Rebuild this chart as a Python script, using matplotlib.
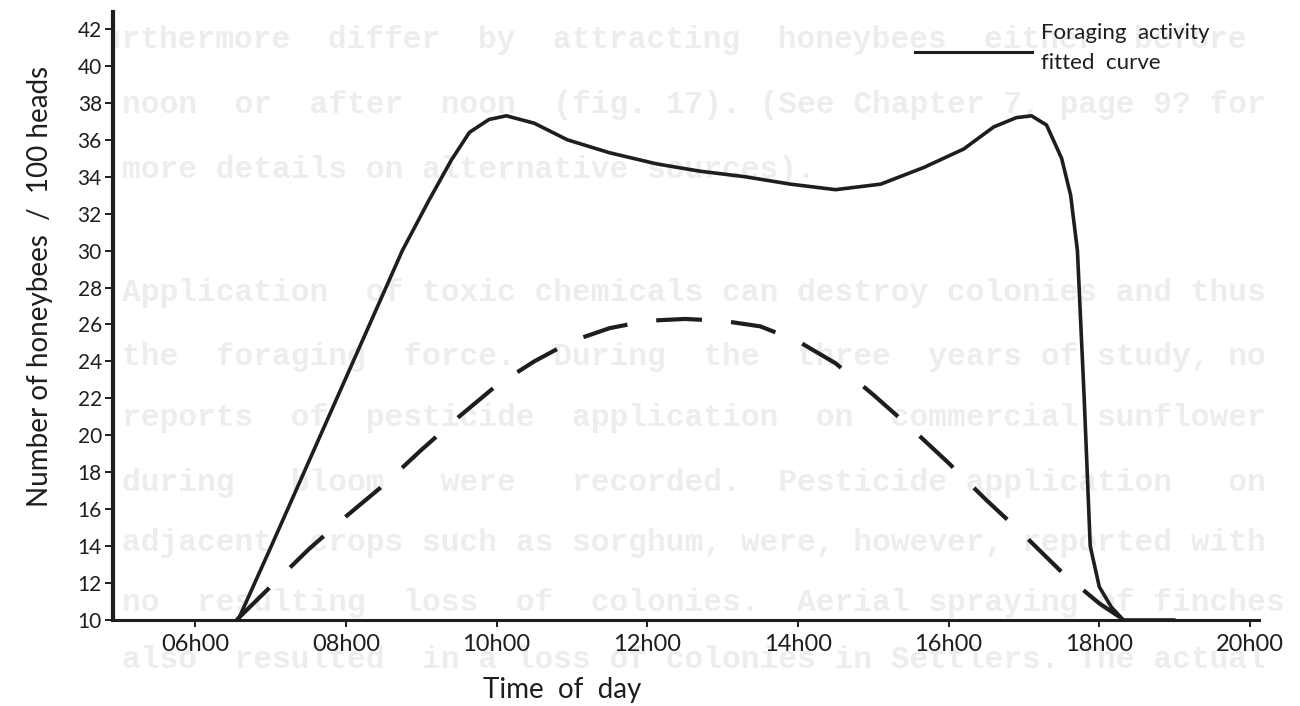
import matplotlib
matplotlib.use("Agg")
import matplotlib.pyplot as plt
from matplotlib.lines import Line2D

# ---------------------------------------------------------------------------
# data (time in hours, honeybees / 100 heads)
# ---------------------------------------------------------------------------
forage_t = [6.57, 7.0, 7.5, 8.0, 8.5, 8.75, 9.1, 9.4, 9.64, 9.9, 10.13, 10.5,
            10.94, 11.5, 12.12, 12.7, 13.3, 13.9, 14.5, 15.1, 15.67, 16.2,
            16.6, 16.9, 17.1, 17.3, 17.5, 17.62, 17.71, 17.8, 17.88, 18.0,
            18.16, 18.32, 19.0]
forage_v = [10.0, 13.9, 18.5, 23.1, 27.7, 30.0, 32.7, 34.9, 36.4, 37.1, 37.3, 36.9,
            36.0, 35.3, 34.7, 34.3, 34.0, 33.6, 33.3, 33.6, 34.5, 35.5,
            36.7, 37.2, 37.3, 36.8, 35.0, 33.0, 30.0, 22.0, 14.0, 11.8,
            10.7, 10.0, 10.0]

fit_t = [6.55, 7.0, 7.5, 8.0, 8.5, 9.0, 9.5, 10.0, 10.5, 11.0, 11.5, 12.0, 12.5,
         13.0, 13.5, 14.0, 14.5, 15.0, 15.5, 16.0, 16.5, 17.0, 17.5, 18.0, 18.33]
fit_v = [10.0, 11.8, 13.8, 15.6, 17.3, 19.2, 21.0, 22.7, 24.0, 25.1, 25.8, 26.2, 26.3,
         26.2, 25.9, 25.1, 23.9, 22.2, 20.4, 18.5, 16.5, 14.6, 12.6, 10.9, 10.0]

x_ticks = [6, 8, 10, 12, 14, 16, 18, 20]
x_labels = ["06h00", "08h00", "10h00", "12h00", "14h00", "16h00", "18h00", "20h00"]
y_ticks = list(range(10, 43, 2))

# faint bleed-through text of the scanned page
page_lines = [
    "furthermore  differ  by  attracting  honeybees  either  before",
    "noon  or  after  noon  (fig. 17). (See Chapter 7, page 9? for",
    "more details on alternative sources).",
    "",
    "Application  of toxic chemicals can destroy colonies and thus",
    "the  foraging  force.  During  the  three  years of study, no",
    "reports  of  pesticide  application  on  commercial sunflower",
    "during   bloom   were   recorded.  Pesticide application   on",
    "adjacent  crops such as sorghum, were, however, reported with",
    "no  resulting  loss  of  colonies.  Aerial spraying of finches",
    "also  resulted  in a loss of colonies in Settlers. The actual",
]
page_y = [40, 105, 170, None, 293, 357, 418, 483, 543, 603, 660]
page_x = [84, 122, 122, None, 122, 122, 122, 122, 122, 122, 122]

INK = "#1e1e1e"
FONT = ["Lato", "DejaVu Sans"]

W, H = 1300, 706
fig = plt.figure(figsize=(W / 100, H / 100), dpi=100)
ax = fig.add_axes([113 / W, 1 - 620 / H, (1259 - 113) / W, (620 - 12) / H])
ax.set_zorder(2)

# page text behind the chart
for i, (txt, py, px) in enumerate(zip(page_lines, page_y, page_x)):
    if not txt:
        continue
    t = fig.text(px / W, 1 - py / H, txt, family="Liberation Mono", weight="bold",
                 fontsize=22.5, color="#ededed", va="center", ha="left", zorder=-1)
    if i == 0:
        # first line starts under the y labels; only the part right of the axis shows
        t.set_clip_box(ax.bbox)
        t.set_clip_on(True)

ax.patch.set_alpha(0)
ax.plot(forage_t, forage_v, color=INK, lw=2.6, solid_capstyle="round", zorder=3)
ax.plot(fit_t, fit_v, color=INK, lw=3.0, dashes=(11, 7), zorder=3)

ax.set_xlim(4.91, 20.12)
ax.set_ylim(10, 42.92)
ax.set_xticks(x_ticks)
ax.set_xticklabels(x_labels)
ax.set_yticks(y_ticks)

for s in ("top", "right"):
    ax.spines[s].set_visible(False)
ax.spines["left"].set_linewidth(3.0)
ax.spines["bottom"].set_linewidth(2.2)
ax.spines["left"].set_color(INK)
ax.spines["bottom"].set_color(INK)
ax.tick_params(axis="y", direction="out", length=6, width=1.4, color=INK,
               labelsize=15, labelcolor=INK, pad=2)
ax.tick_params(axis="x", direction="out", length=5, width=1.4, color=INK,
               labelsize=17, labelcolor=INK, pad=5)
for lab in ax.get_xticklabels() + ax.get_yticklabels():
    lab.set_family(FONT)

fig.text(40 / W, 1 - 286 / H, "Number of honeybees  /  100 heads", rotation=90,
         family=FONT, fontsize=20, color=INK, ha="center", va="center")
fig.text(562 / W, 1 - 690 / H, "Time  of  day", family=FONT,
         fontsize=20, color=INK, ha="center", va="center")

# hand-drawn key in the top right corner
fig.add_artist(Line2D([915 / W, 1032 / W], [1 - 52 / H, 1 - 52 / H],
                      color=INK, lw=2.2))
fig.text(1041 / W, 1 - 33 / H, "Foraging  activity", family=FONT,
         fontsize=16, color=INK, ha="left", va="center")
fig.text(1041 / W, 1 - 63 / H, "fitted  curve", family=FONT,
         fontsize=16, color=INK, ha="left", va="center")

fig.savefig("out.png", dpi=100)
